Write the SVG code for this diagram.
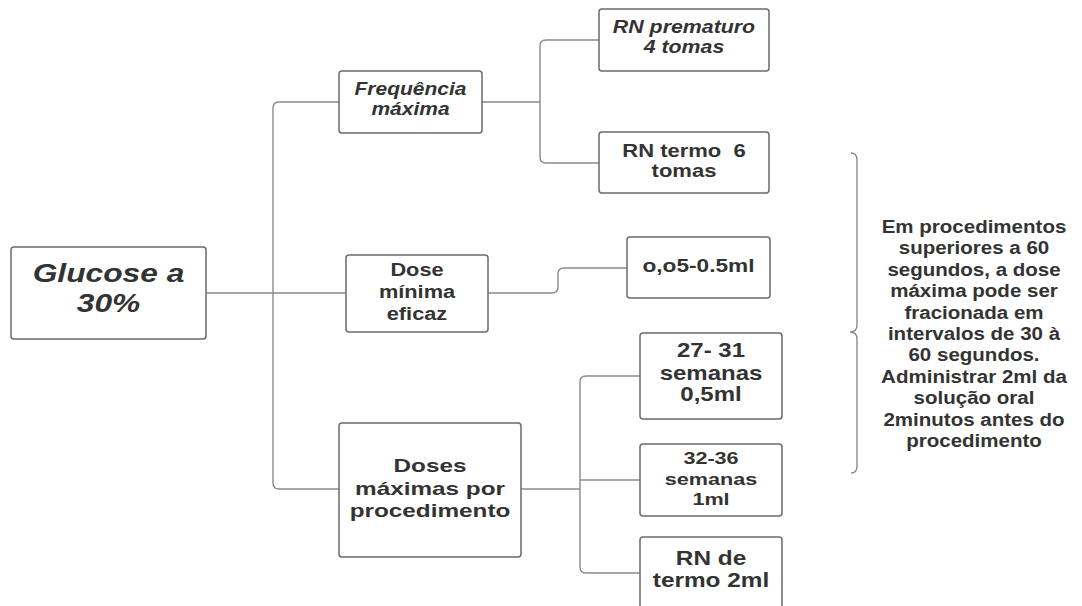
<svg xmlns="http://www.w3.org/2000/svg" width="1082" height="606" viewBox="0 0 1082 606">
  <style>
    .box { fill: #ffffff; stroke: #6b6b6b; stroke-width: 1.5; }
    .conn { fill: none; stroke: #8a8a8a; stroke-width: 1.4; }
    text { font-family: "Liberation Sans", Arial, sans-serif; font-weight: bold; fill: #333333; text-anchor: middle; white-space: pre; }
    .it { font-style: italic; }
  </style>
  <rect width="1082" height="606" fill="#ffffff"/>

  <g id="connectors">
    <path class="conn" d="M206,293 H346"/>
    <path class="conn" d="M339,102 H279 Q273,102 273,108 V483 Q273,489 279,489 H339"/>
    <path class="conn" d="M482,102 H540"/>
    <path class="conn" d="M599,40 H546 Q540,40 540,46 V157 Q540,163 546,163 H599"/>
    <path class="conn" d="M488,293 H552 Q558,293 558,287 V274 Q558,268 564,268 H627"/>
    <path class="conn" d="M521,489 H580"/>
    <path class="conn" d="M640,376 H586 Q580,376 580,382 V567 Q580,573 586,573 H640"/>
    <path class="conn" d="M580,480 H640"/>
    <path class="conn" d="M851,153 Q857,153 857,160 L857,325 Q857,332 850,332 Q857,332 857,339 L857,466 Q857,473 851,473"/>
  </g>

  <g id="glucose">
    <rect class="box" x="11" y="247" width="195" height="92" rx="3"/>
    <text class="it" font-size="25" transform="translate(108.5 0) scale(1.27 1)"><tspan x="0" y="282">Glucose a</tspan><tspan x="0" y="312">30%</tspan></text>
  </g>

  <g id="frequencia">
    <rect class="box" x="339" y="71" width="143" height="62" rx="3"/>
    <text class="it" font-size="17.5" transform="translate(410.5 0) scale(1.2 1)"><tspan x="0" y="95">Frequência</tspan><tspan x="0" y="115">máxima</tspan></text>
  </g>

  <g id="rn-prematuro">
    <rect class="box" x="599" y="9" width="170" height="62" rx="3"/>
    <text class="it" font-size="17.5" transform="translate(684 0) scale(1.22 1)"><tspan x="0" y="33">RN prematuro</tspan><tspan x="0" y="53">4 tomas</tspan></text>
  </g>

  <g id="rn-termo">
    <rect class="box" x="599" y="132" width="170" height="61" rx="3"/>
    <text font-size="18.5" transform="translate(684 0) scale(1.19 1)"><tspan x="0" y="157">RN termo  6</tspan><tspan x="0" y="177">tomas</tspan></text>
  </g>

  <g id="dose-minima">
    <rect class="box" x="346" y="255" width="142" height="77" rx="3"/>
    <text font-size="17.7" transform="translate(417 0) scale(1.23 1)"><tspan x="0" y="276">Dose</tspan><tspan x="0" y="298">mínima</tspan><tspan x="0" y="320">eficaz</tspan></text>
  </g>

  <g id="dose-valor">
    <rect class="box" x="627" y="237" width="143" height="61" rx="3"/>
    <text font-size="18" transform="translate(698.5 0) scale(1.26 1)"><tspan x="0" y="272">o,o5-0.5ml</tspan></text>
  </g>

  <g id="doses-maximas">
    <rect class="box" x="339" y="423" width="182" height="134" rx="3"/>
    <text font-size="19" transform="translate(430 0) scale(1.28 1)"><tspan x="0" y="472">Doses</tspan><tspan x="0" y="495">máximas por</tspan><tspan x="0" y="517">procedimento</tspan></text>
  </g>

  <g id="semanas-27-31">
    <rect class="box" x="640" y="333" width="142" height="86" rx="3"/>
    <text font-size="20" transform="translate(711 0) scale(1.2 1)"><tspan x="0" y="357">27- 31</tspan><tspan x="0" y="380">semanas</tspan><tspan x="0" y="401">0,5ml</tspan></text>
  </g>

  <g id="semanas-32-36">
    <rect class="box" x="640" y="444" width="142" height="72" rx="3"/>
    <text font-size="16" transform="translate(711 0) scale(1.35 1)"><tspan x="0" y="464">32-36</tspan><tspan x="0" y="485">semanas</tspan><tspan x="0" y="505">1ml</tspan></text>
  </g>

  <g id="rn-de-termo">
    <rect class="box" x="640" y="537" width="142" height="80" rx="3"/>
    <text font-size="19.5" transform="translate(711 0) scale(1.25 1)"><tspan x="0" y="565">RN de</tspan><tspan x="0" y="587">termo 2ml</tspan></text>
  </g>

  <g id="nota">
    <text font-size="19" transform="translate(974 0) scale(1.08 1)"><tspan x="0" y="233">Em procedimentos</tspan><tspan x="0" y="254.4">superiores a 60</tspan><tspan x="0" y="275.8">segundos, a dose</tspan><tspan x="0" y="297.2">máxima pode ser</tspan><tspan x="0" y="318.6">fracionada em</tspan><tspan x="0" y="340">intervalos de 30 à</tspan><tspan x="0" y="361.4">60 segundos.</tspan><tspan x="0" y="382.8">Administrar 2ml da</tspan><tspan x="0" y="404.2">solução oral</tspan><tspan x="0" y="425.6">2minutos antes do</tspan><tspan x="0" y="447">procedimento</tspan></text>
  </g>
</svg>
